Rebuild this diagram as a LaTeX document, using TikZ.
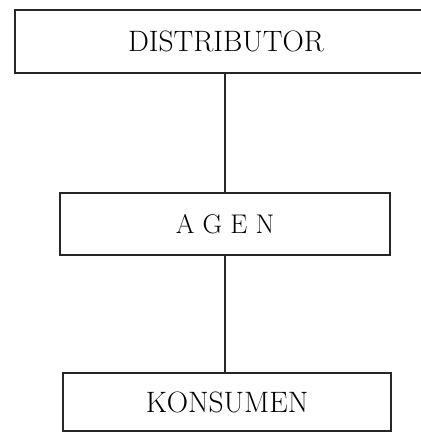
\documentclass[tikz,border=0pt]{standalone}
\begin{document}
\begin{tikzpicture}[x=1pt,y=1pt,
  box/.style={draw=black!85,line width=1.6pt,inner sep=0pt,font=\fontsize{29.5}{33}\selectfont},
  link/.style={draw=black!85,line width=1.6pt}]
\useasboundingbox (0,0) rectangle (421,432);
\node[box,minimum width=422pt,minimum height=63pt] (D) at (226,390.5) {DISTRIBUTOR};
\node[box,minimum width=330pt,minimum height=62pt,font=\fontsize{27}{31}\selectfont] (A) at (225,208) {A G E N};
\node[box,minimum width=328pt,minimum height=58pt] (K) at (227,30) {KONSUMEN};
\draw[link] (D.south -| A.north) -- (A.north);
\draw[link] (A.south) -- (K.north -| A.south);
\end{tikzpicture}
\end{document}
